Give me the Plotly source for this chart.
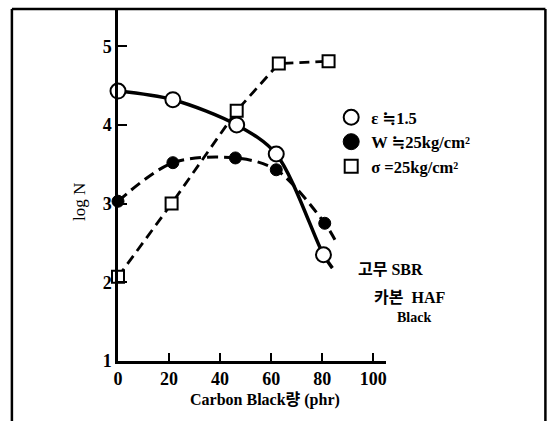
import plotly.graph_objects as go

# ---- data ----
carbon_eps = [0, 21.5, 46.5, 62, 80.5]
logn_eps = [4.43, 4.32, 4.0, 3.63, 2.35]
eps_tail = (84, 2.18)

carbon_w = [0, 21.5, 46, 62, 81]
logn_w = [3.03, 3.52, 3.58, 3.43, 2.75]
w_tail = (85, 2.54)

carbon_sigma = [0, 21, 46.5, 63, 82.5]
logn_sigma = [2.07, 3.0, 4.18, 4.78, 4.81]

x_ticks = [0, 20, 40, 60, 80, 100]
y_ticks = [1, 2, 3, 4, 5]

W, H = 553, 421
L, R_PX, T, B_PX = 118, 385.75, 10, 361
PW, PH = R_PX - L, B_PX - T


def px(x):
    return (x - L) / PW


def py(y):
    return (B_PX - y) / PH


SERIF = "'Liberation Serif', 'DejaVu Serif', 'Noto Sans CJK KR', serif"

fig = go.Figure()

# epsilon curve (solid)
fig.add_trace(go.Scatter(x=carbon_eps + [eps_tail[0]], y=logn_eps + [eps_tail[1]],
                         mode="lines", line=dict(color="black", width=3.5, shape="spline", smoothing=0.9),
                         showlegend=False, hoverinfo="skip"))
# W curve (dashed)
fig.add_trace(go.Scatter(x=carbon_w + [w_tail[0]], y=logn_w + [w_tail[1]],
                         mode="lines", line=dict(color="black", width=3, dash="11px,6px", shape="spline", smoothing=0.9),
                         showlegend=False, hoverinfo="skip"))
# sigma (dashed straight)
fig.add_trace(go.Scatter(x=carbon_sigma, y=logn_sigma, mode="lines",
                         line=dict(color="black", width=2.8, dash="10px,6px"),
                         showlegend=False, hoverinfo="skip"))

# markers
fig.add_trace(go.Scatter(x=carbon_w, y=logn_w, mode="markers", cliponaxis=False,
                         marker=dict(symbol="circle", size=12, color="black",
                                     line=dict(color="black", width=1)),
                         showlegend=False, hoverinfo="skip"))
fig.add_trace(go.Scatter(x=carbon_sigma, y=logn_sigma, mode="markers", cliponaxis=False,
                         marker=dict(symbol="square", size=12, color="white",
                                     line=dict(color="black", width=2)),
                         showlegend=False, hoverinfo="skip"))
fig.add_trace(go.Scatter(x=carbon_eps, y=logn_eps, mode="markers", cliponaxis=False,
                         marker=dict(symbol="circle", size=15, color="white",
                                     line=dict(color="black", width=2)),
                         showlegend=False, hoverinfo="skip"))

# legend entries
fig.add_trace(go.Scatter(x=[None], y=[None], mode="markers", name="<b>ε ≒1.5</b>",
                         marker=dict(symbol="circle", size=15, color="white", line=dict(color="black", width=2))))
fig.add_trace(go.Scatter(x=[None], y=[None], mode="markers", name="<b>W ≒25kg/cm²</b>",
                         marker=dict(symbol="circle", size=16, color="black", line=dict(color="black", width=1))))
fig.add_trace(go.Scatter(x=[None], y=[None], mode="markers", name="<b>σ =25kg/cm²</b>",
                         marker=dict(symbol="square", size=13, color="white", line=dict(color="black", width=2))))

fig.update_layout(
    width=W, height=H,
    margin=dict(l=L, r=W - R_PX, t=T, b=H - B_PX),
    paper_bgcolor="white", plot_bgcolor="white",
    font=dict(family=SERIF, color="black", size=15),
    showlegend=True,
    legend=dict(x=px(331), y=py(100), xanchor="left", yanchor="top",
                bgcolor="rgba(0,0,0,0)", font=dict(family=SERIF, size=16.5, color="black"),
                tracegroupgap=0, itemwidth=30),
    xaxis=dict(range=[0, 105], tickvals=x_ticks, ticktext=["<b>%d</b>" % v for v in x_ticks],
               showgrid=False, zeroline=False, showline=True, linecolor="black", linewidth=2.5,
               ticks="inside", ticklen=8, tickwidth=2, tickcolor="black",
               tickfont=dict(family=SERIF, size=18, color="black")),
    yaxis=dict(range=[1, 1 + PH / 78.7], tickvals=y_ticks, ticktext=["<b>%d</b>" % v for v in y_ticks],
               showgrid=False, zeroline=False, showline=True, linecolor="black", linewidth=2.5,
               ticks="inside", ticklen=9, tickwidth=2, tickcolor="black",
               tickfont=dict(family=SERIF, size=18, color="black")),
)

annos = [
    dict(text="log N", x=px(79), y=py(202), textangle=-90, font=dict(size=17)),
    dict(text="<b>Carbon Black량 (phr)</b>", x=px(265), y=py(400), font=dict(size=16)),
    dict(text="<b>고무 SBR</b>", x=px(390), y=py(269), font=dict(size=16)),
    dict(text="<b>카본  HAF</b>", x=px(409), y=py(297), font=dict(size=16)),
    dict(text="<b>Black</b>", x=px(414), y=py(317), font=dict(size=14)),
]
for a in annos:
    fig.add_annotation(xref="paper", yref="paper", showarrow=False,
                       xanchor="center", yanchor="middle", **a)

# outer frame (left, top, right)
fl, fr, ft, fb = px(12), px(545), py(9), py(421)
for x0, y0, x1, y1 in [(fl, fb, fl, ft), (fl, ft, fr, ft), (fr, ft, fr, fb)]:
    fig.add_shape(type="line", xref="paper", yref="paper", x0=x0, y0=y0, x1=x1, y1=y1,
                  line=dict(color="black", width=2.5))

fig.write_html("out.html")
